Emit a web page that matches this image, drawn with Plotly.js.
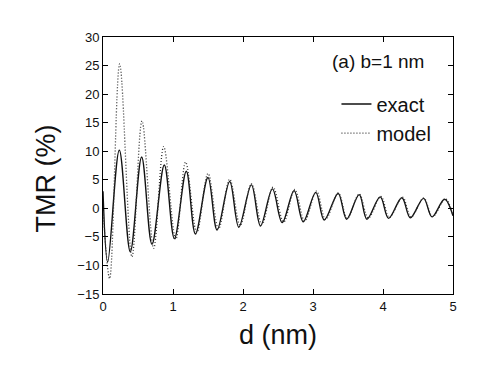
<!DOCTYPE html>
<html>
<head>
<meta charset="utf-8">
<script src="https://cdn.plot.ly/plotly-3.0.1.min.js"></script>
<style>
  html, body { margin: 0; padding: 0; background: #fff; }
  #tmr { width: 483px; height: 382px; }
</style>
</head>
<body>
<div id="tmr"></div>
<script>
// exact curve (extrema + ends)
var dExact = [0, 0.067, 0.233, 0.39, 0.552, 0.70, 0.876, 1.02, 1.19, 1.32, 1.5, 1.63, 1.81, 1.94,
  2.12, 2.25, 2.42, 2.56, 2.73, 2.86, 3.04, 3.16, 3.36, 3.48, 3.66, 3.77, 3.96, 4.08, 4.27, 4.39,
  4.58, 4.70, 4.88, 5.0];
var tmrExact = [3, -9.4, 10.2, -7.6, 9.0, -6.3, 7.6, -5.3, 6.5, -4.5, 5.4, -3.8, 4.7, -3.3,
  4.1, -3.1, 3.4, -2.5, 3.1, -2.35, 2.8, -2.05, 2.6, -1.9, 2.4, -1.9, 2.0, -1.75, 1.86, -1.65,
  1.75, -1.5, 1.6, -1.3];

// model curve
var dModel = [0, 0.095, 0.238, 0.414, 0.557, 0.724, 0.867, 1.04, 1.18, 1.34, 1.50, 1.65, 1.81, 1.96,
  2.12, 2.27, 2.43, 2.58, 2.74, 2.88, 3.05, 3.18, 3.36, 3.49, 3.66, 3.79, 3.97, 4.09, 4.28, 4.40,
  4.58, 4.71, 4.89, 5.0];
var tmrModel = [0, -12.3, 25.3, -8.5, 15.3, -7.0, 10.8, -5.4, 8.1, -4.2, 6.1, -3.6, 5.1, -3.0,
  4.3, -2.8, 3.7, -2.4, 3.3, -2.2, 3.0, -1.95, 2.7, -1.8, 2.5, -1.7, 2.1, -1.6, 1.95, -1.55,
  1.8, -1.45, 1.65, -1.2];

var xTicks = [0, 1, 2, 3, 4, 5];
var yTicks = [-15, -10, -5, 0, 5, 10, 15, 20, 25, 30];

var exact = {
  x: dExact, y: tmrExact,
  mode: 'lines', name: 'exact', type: 'scatter',
  line: {shape: 'spline', smoothing: 1, color: '#111', width: 1.4}
};
var model = {
  x: dModel, y: tmrModel,
  mode: 'lines', name: 'model', type: 'scatter',
  line: {shape: 'spline', smoothing: 1, color: '#333', width: 1.3, dash: '1px,2px'}
};

var axisCommon = {
  showgrid: false, zeroline: false,
  showline: true, linecolor: '#000', linewidth: 1, mirror: 'ticks',
  ticks: 'inside', ticklen: 5, tickcolor: '#000',
  tickfont: {family: 'Liberation Sans, Arial, sans-serif', size: 13, color: '#111'}
};

var layout = {
  width: 483, height: 382,
  margin: {l: 103, r: 30, t: 37, b: 88},
  paper_bgcolor: '#fff', plot_bgcolor: '#fff',
  font: {family: 'Liberation Sans, Arial, sans-serif', color: '#111'},
  xaxis: Object.assign({}, axisCommon, {
    range: [0, 5], tickvals: xTicks,
    title: {text: 'd (nm)', font: {size: 27}, standoff: 12}
  }),
  yaxis: Object.assign({}, axisCommon, {
    range: [-15, 30], tickvals: yTicks
  }),
  showlegend: true,
  legend: {
    x: 0.667, xanchor: 'left', y: 0.815, yanchor: 'top',
    bgcolor: 'rgba(0,0,0,0)', font: {size: 20},
    tracegroupgap: 0
  },
  annotations: [{
    xref: 'paper', yref: 'paper', x: 0.785, y: 0.904,
    xanchor: 'center', yanchor: 'middle',
    text: '(a) b=1 nm', showarrow: false, font: {size: 19}
  }, {
    // y-axis title, sits a little below the plot middle in the original
    xref: 'paper', yref: 'paper', x: -0.162, y: 0.451,
    xanchor: 'center', yanchor: 'middle', textangle: -90,
    text: 'TMR (%)', showarrow: false, font: {size: 27}
  }]
};

Plotly.newPlot('tmr', [exact, model], layout, {staticPlot: true});
</script>
</body>
</html>
